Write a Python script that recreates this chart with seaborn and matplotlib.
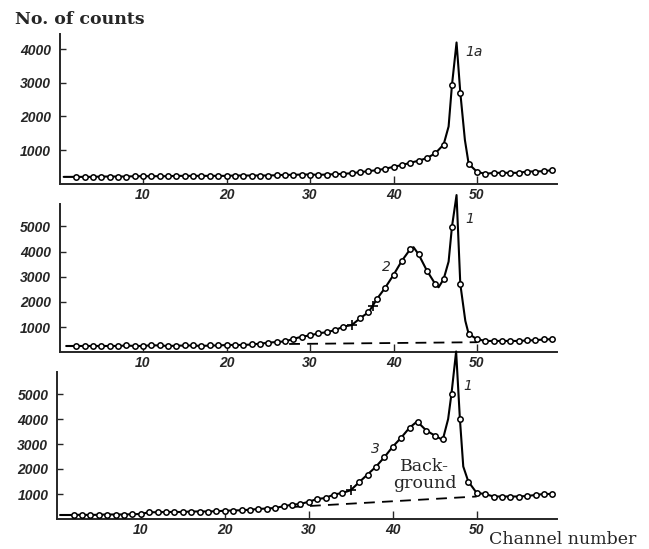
import numpy as np
import pandas as pd
import matplotlib
matplotlib.use("Agg")
import matplotlib.pyplot as plt
import seaborn as sns

# ---------------- data ----------------
channels = list(range(2, 60))

top_counts = [200, 200, 200, 210, 210, 210, 210, 220, 220, 220, 220, 220, 230, 230,
              230, 230, 230, 230, 230, 240, 240, 240, 240, 240, 250, 260, 260, 270,
              270, 260, 270, 280, 290, 310, 340, 370, 400, 440, 500, 550, 620, 680,
              760, 900, 1160, 2930, 2710, 590, 350, 290, 320, 320, 320, 320, 360,
              360, 370, 400]
top_extra_x = [0.5, 46.6, 47.55, 48.55]
top_extra_y = [200, 1700, 4200, 1300]

mid_counts = [250, 250, 250, 250, 250, 250, 270, 250, 250, 280, 270, 250, 260, 270,
              270, 250, 270, 270, 290, 290, 290, 310, 340, 380, 410, 430, 530, 620,
              670, 750, 800, 880, 1020, 1080, 1350, 1590, 2110, 2560, 3070, 3630,
              4090, 3890, 3240, 2710, 2900, 4980, 2710, 730, 520, 450, 450, 450, 450,
              450, 470, 480, 510, 520]
mid_cross_x = [35, 37.5]
mid_cross_y = [1080, 1840]
mid_extra_x = [0.8, 42.4, 45.4, 46.6, 47.55, 48.6]
mid_extra_y = [250, 4170, 2580, 3600, 6240, 1250]
mid_bg_x = [27.5, 50]
mid_bg_y = [330, 400]

bot_counts = [160, 170, 160, 170, 180, 180, 180, 190, 200, 270, 270, 280, 280, 280,
              300, 300, 300, 310, 330, 340, 350, 370, 400, 420, 440, 510, 570, 600,
              690, 800, 840, 980, 1040, 1150, 1470, 1780, 2090, 2470, 2890, 3250,
              3650, 3870, 3540, 3340, 3220, 5020, 4000, 1500, 1040, 1000, 900, 900,
              900, 900, 920, 960, 1000, 1000]
bot_cross_x = [35]
bot_cross_y = [1150]
bot_extra_x = [0.4, 42.9, 45.9, 46.6, 47.55, 48.4]
bot_extra_y = [160, 3900, 3170, 4000, 6700, 2100]
bot_bg_x = [28, 50]
bot_bg_y = [480, 900]

x_ticks = [10, 20, 30, 40, 50]
top_yticks = [1000, 2000, 3000, 4000]
mid_yticks = [1000, 2000, 3000, 4000, 5000]
bot_yticks = [1000, 2000, 3000, 4000, 5000]

# ---------------- style ----------------
sns.set_style("ticks")
plt.rcParams["font.family"] = ["DejaVu Serif", "DejaVu Sans"]

W, H = 649, 549
fig = plt.figure(figsize=(W / 100, H / 100), dpi=100)


def px_axes(left, zero_y, px_per_ch, xmax, px_per_k, ymax):
    width = px_per_ch * xmax
    height = px_per_k * ymax / 1000.0
    return fig.add_axes([left / W, 1 - zero_y / H, width / W, height / H])


tick_font = dict(family="Liberation Sans", style="italic", weight="bold", size=10)
num_font = dict(family="DejaVu Sans", style="italic", size=10)


def draw_panel(ax, counts, extra_x, extra_y, yticks, ymax, spine_top,
               cross_x=None, cross_y=None, bg_x=None, bg_y=None, xmax=59.6):
    ax.set_facecolor("none")
    circ = pd.DataFrame({"ch": channels, "n": counts})
    if cross_x:
        circ = circ[~circ["ch"].isin(cross_x)]
    curve = pd.concat([
        pd.DataFrame({"ch": channels, "n": counts}),
        pd.DataFrame({"ch": extra_x, "n": extra_y}),
        pd.DataFrame({"ch": cross_x or [], "n": cross_y or []}),
    ]).drop_duplicates("ch").sort_values("ch")
    sns.lineplot(data=curve, x="ch", y="n", ax=ax, color="black", lw=1.5,
                 estimator=None, sort=True)
    sns.scatterplot(data=circ, x="ch", y="n", ax=ax, marker="o", s=15,
                    facecolor="white", edgecolor="black", linewidth=1.1, zorder=3)
    if cross_x:
        sns.scatterplot(x=cross_x, y=cross_y, ax=ax, marker="+", s=45,
                        color="black", linewidth=1.2, zorder=3)
    if bg_x:
        sns.lineplot(x=bg_x, y=bg_y, ax=ax, color="black", lw=1.3,
                     linestyle=(0, (6, 4)))
    ax.set_xlim(0, xmax)
    ax.set_ylim(0, ymax)
    ax.set_xticks(x_ticks)
    ax.set_yticks(yticks)
    ax.set_xticklabels([str(t) for t in x_ticks], fontdict=tick_font)
    ax.set_yticklabels([str(t) for t in yticks], fontdict=tick_font)
    ax.tick_params(axis="x", direction="in", length=6, width=1.0, pad=3)
    ax.tick_params(axis="y", direction="in", length=4, width=1.0, pad=6)
    for s in ["top", "right"]:
        ax.spines[s].set_visible(False)
    for s in ["left", "bottom"]:
        ax.spines[s].set_linewidth(1.4)
    ax.spines["left"].set_bounds(0, spine_top)
    ax.set_xlabel("")
    ax.set_ylabel("")


# top panel
ax1 = px_axes(59.5, 183.6, 8.35, 59.6, 33.6, 4500)
draw_panel(ax1, top_counts, top_extra_x, top_extra_y, top_yticks, 4500, 4450)
ax1.text(48.6, 3930, "1a", fontdict=num_font, ha="left", va="center")

# middle panel
ax2 = px_axes(59.5, 352.3, 8.35, 59.6, 25.2, 6400)
draw_panel(ax2, mid_counts, mid_extra_x, mid_extra_y, mid_yticks, 6400, 5900,
           mid_cross_x, mid_cross_y, mid_bg_x, mid_bg_y)
ax2.text(48.6, 5280, "1", fontdict=num_font, ha="left", va="center")
ax2.text(39.2, 3400, "2", fontdict=num_font, ha="center", va="center")

# bottom panel
ax3 = px_axes(56.7, 519.0, 8.4, 59.5, 25.0, 6900)
draw_panel(ax3, bot_counts, bot_extra_x, bot_extra_y, bot_yticks, 6900, 5900,
           bot_cross_x, bot_cross_y, bot_bg_x, bot_bg_y, xmax=59.5)
ax3.text(48.4, 5320, "1", fontdict=num_font, ha="left", va="center")
ax3.text(37.9, 2790, "3", fontdict=num_font, ha="center", va="center")
ax3.text(43.8, 1750, "Back-\nground", family="DejaVu Serif", size=12.5,
         ha="center", va="center", linespacing=1.0)

fig.text(15 / W, 1 - 20 / H, "No. of counts", family="DejaVu Serif", weight="bold",
         size=12.5, ha="left", va="center")
fig.text(489 / W, 1 - 540 / H, "Channel number", family="DejaVu Serif",
         size=12.5, ha="left", va="center")

fig.savefig("out.png", dpi=100)
